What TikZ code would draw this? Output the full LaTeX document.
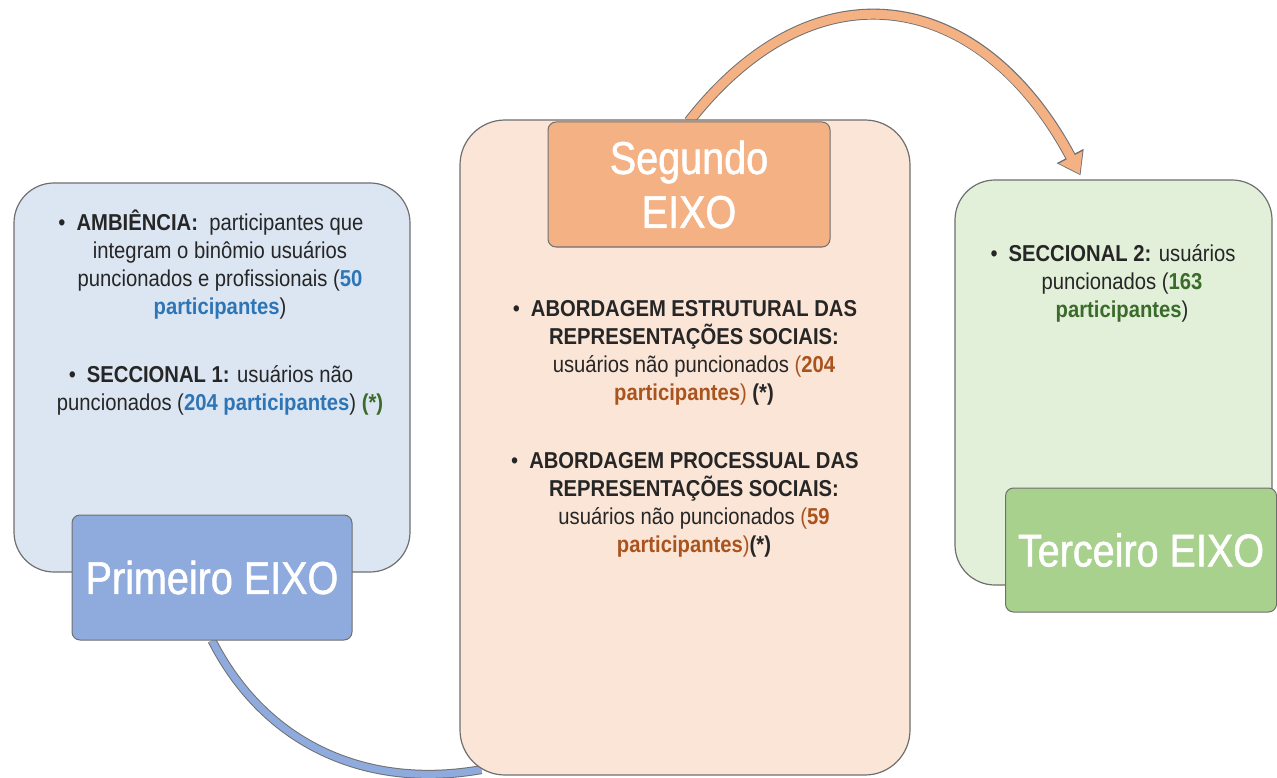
\documentclass[tikz,border=0pt]{standalone}
\usepackage{fontspec}
\setmainfont{Liberation Sans}[FakeStretch=0.88]
\newfontfamily\titlefont{Liberation Sans}[FakeStretch=0.86, FakeBold=1.2]
\usetikzlibrary{arrows.meta,positioning,backgrounds}

\definecolor{amfill}{HTML}{DCE6F2}
\definecolor{amtitle}{HTML}{8FAADC}
\definecolor{segfill}{HTML}{FBE5D6}
\definecolor{segtitle}{HTML}{F4B183}
\definecolor{tercfill}{HTML}{E2F0D9}
\definecolor{terctitle}{HTML}{A9D18E}
\definecolor{numblue}{HTML}{2E75B6}
\definecolor{numbrown}{HTML}{A9541E}
\definecolor{numgreen}{HTML}{3B6B2A}
\definecolor{edgegray}{HTML}{6F6F6F}

\tikzset{
  axisbox/.style={draw=edgegray, line width=1.2pt, rounded corners=40pt, inner sep=0pt},
  axistitle/.style={draw=edgegray, line width=1pt, rounded corners=8pt, text=white,
    font=\titlefont\fontsize{46}{54}\selectfont, align=center, inner sep=0pt},
  bodytext/.style={align=center, inner sep=0pt, text=black!85, font=\fontsize{23}{28}\selectfont},
  bandline/.style={draw=edgegray, line width=1pt},
}
\newcommand{\bul}{\makebox[0pt][r]{\textbullet\hspace{11pt}}}

\begin{document}
\begin{tikzpicture}[x=1pt, y=-1pt]
  \useasboundingbox (0,0) rectangle (1277,778);

  % Primeiro eixo
  \node[axisbox, fill=amfill, minimum width=396pt, minimum height=389pt] (ambox) at (212,377.5) {};
  \node[bodytext, anchor=north] (amtext) at (220,210)
    {\bul\textbf{AMBIÊNCIA:}\ \ participantes que\\ integram o binômio usuários\\
     puncionados e profissionais (\textbf{\color{numblue}50}\\ \textbf{\color{numblue}participantes})\\[40pt]
     \bul\textbf{SECCIONAL 1:} usuários não\\
     puncionados (\textbf{\color{numblue}204 participantes}) \textbf{\color{numgreen}(*)}};
  \node[axistitle, fill=amtitle, minimum width=280pt, minimum height=125pt] (primeiro) at (212,577.5) {Primeiro EIXO};

  % Segundo eixo
  \node[axisbox, rounded corners=45pt, fill=segfill, minimum width=450pt, minimum height=655pt] (segbox) at (685,447.5) {};
  \node[axistitle, fill=segtitle, minimum width=282pt, minimum height=125pt] (segundo) at (689,184.5) {Segundo\\EIXO};
  \node[bodytext, anchor=north] (segtext) at (694,300)
    {\bul\textbf{ABORDAGEM ESTRUTURAL DAS}\\ \textbf{REPRESENTAÇÕES SOCIAIS:}\\
     usuários não puncionados {\color{numbrown}(\textbf{204}}\\
     {\color{numbrown}\textbf{participantes})} \textbf{(*)}\\[40pt]
     \bul\textbf{ABORDAGEM PROCESSUAL DAS}\\ \textbf{REPRESENTAÇÕES SOCIAIS:}\\
     usuários não puncionados {\color{numbrown}(\textbf{59}}\\
     {\color{numbrown}\textbf{participantes})}\textbf{(*)}};

  % Terceiro eixo
  \node[axisbox, fill=tercfill, minimum width=317pt, minimum height=405pt] (tercbox) at (1113.5,382.5) {};
  \node[bodytext, anchor=north] (terctext) at (1122,244)
    {\bul\textbf{SECCIONAL 2:} usuários\\ puncionados (\textbf{\color{numgreen}163}\\
     \textbf{\color{numgreen}participantes})};
  \node[axistitle, fill=terctitle, minimum width=271pt, minimum height=124pt] (terceiro) at (1141,550) {Terceiro EIXO};
  \coordinate (terctip) at ([xshift=-33pt, yshift=4pt]tercbox.north);

  % Ligacoes
  \begin{scope}[on background layer]
    \draw[bandline, double=amtitle, double distance=7pt]
      (primeiro.south) to[out=-63, in=190] ([xshift=22pt, yshift=6pt]segbox.south west);
    \draw[edgegray, line width=11pt, -{Triangle[length=22pt, width=29pt]}]
      (segundo.north) to[out=52, in=118, looseness=1.35] (terctip);
    \draw[segtitle, line width=9pt, -{Triangle[length=19pt, width=25pt]}, shorten >=1.5pt]
      (segundo.north) to[out=52, in=118, looseness=1.35] (terctip);
  \end{scope}
\end{tikzpicture}
\end{document}
